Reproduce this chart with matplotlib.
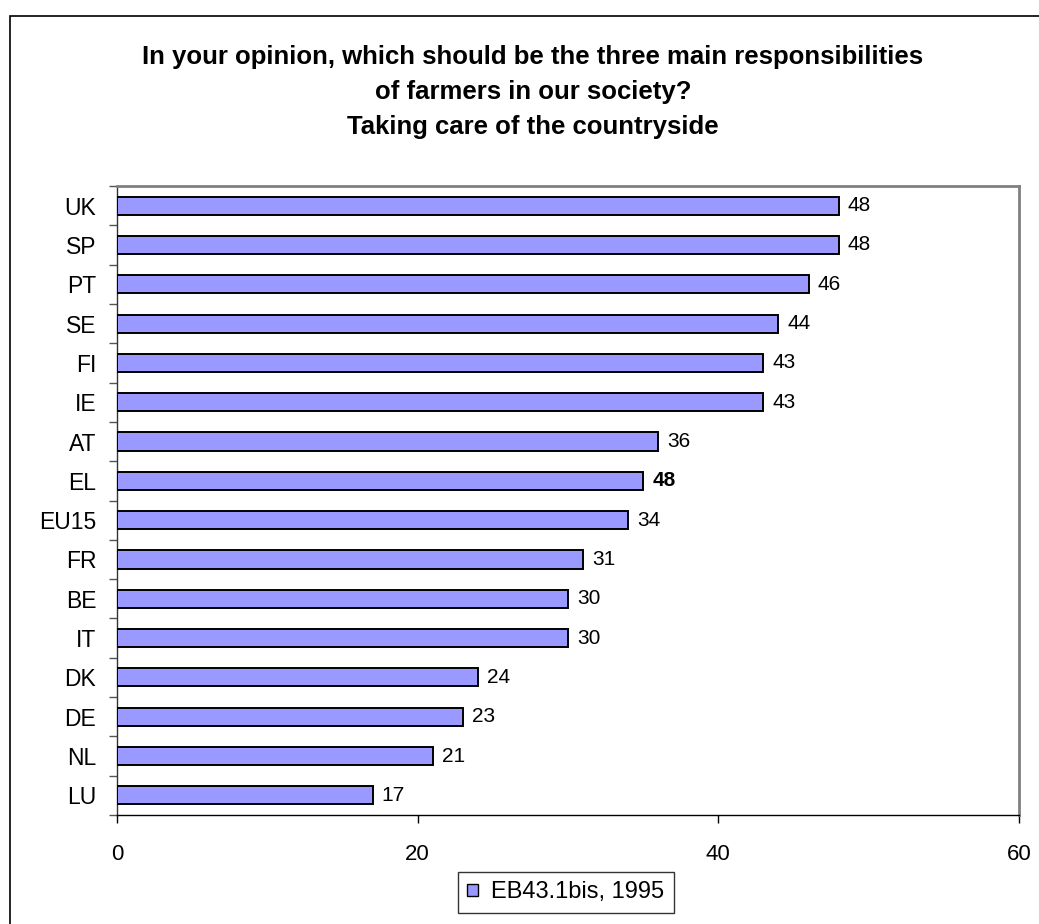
import matplotlib
matplotlib.use("Agg")
import matplotlib.pyplot as plt
from matplotlib.patches import Rectangle, Patch

countries = ["UK", "SP", "PT", "SE", "FI", "IE", "AT", "EL", "EU15",
             "FR", "BE", "IT", "DK", "DE", "NL", "LU"]
values = [48, 48, 46, 44, 43, 43, 36, 35, 34, 31, 30, 30, 24, 23, 21, 17]
value_labels = ["48", "48", "46", "44", "43", "43", "36", "48", "34",
                "31", "30", "30", "24", "23", "21", "17"]
bold_labels = ["EL"]
x_ticks = [0, 20, 40, 60]
series_name = "EB43.1bis, 1995"
title = ("In your opinion, which should be the three main responsibilities\n"
         "of farmers in our society?\n"
         "Taking care of the countryside")

plt.rcParams["font.family"] = ["Liberation Sans", "DejaVu Sans"]

W, H = 1039, 924
fig = plt.figure(figsize=(W / 100, H / 100), dpi=100)

# outer chart frame (only left and top edges fall inside the image)
fig.patches.append(Rectangle((10 / W, -0.1), 1.2, 1 - 16 / H + 0.1,
                             transform=fig.transFigure, fill=False,
                             edgecolor="black", linewidth=1.2))

ax = fig.add_axes([117 / W, 1 - 815 / H, (1019 - 117) / W, (815 - 186) / H])

ypos = list(range(len(countries)))
ax.barh(ypos, values, height=0.46, color="#9999FF",
        edgecolor="black", linewidth=1.4, zorder=3)

for y, v, lab, c in zip(ypos, values, value_labels, countries):
    ax.annotate(lab, (v, y), xytext=(6.5, 0), textcoords="offset points",
                va="center", ha="left", fontsize=15,
                fontweight="bold" if c in bold_labels else "normal")

ax.set_xlim(x_ticks[0], x_ticks[-1])
ax.set_ylim(len(countries) - 0.5, -0.5)
ax.set_xticks(x_ticks)
ax.set_xticklabels([str(t) for t in x_ticks], fontsize=16)
ax.tick_params(axis="x", direction="out", length=6, width=1, pad=15,
               color="black")

ax.set_yticks(ypos)
ax.set_yticklabels(countries, fontsize=16.5)
ax.tick_params(axis="y", which="major", length=0, pad=15)
ax.set_yticks([i - 0.5 for i in range(len(countries) + 1)], minor=True)
ax.tick_params(axis="y", which="minor", direction="out", length=6,
               width=1, color="#555555")

for side in ("top", "right"):
    ax.spines[side].set_color("#808080")
    ax.spines[side].set_linewidth(2)
ax.spines["left"].set_color("#333333")
ax.spines["left"].set_linewidth(1)
ax.spines["bottom"].set_color("black")
ax.spines["bottom"].set_linewidth(1)

fig.text(533 / W, 1 - 92 / H, title, ha="center", va="center",
         fontsize=18.5, fontweight="bold", linespacing=1.6)

leg = fig.legend(handles=[Patch(facecolor="#9999FF", edgecolor="black",
                                linewidth=1, label=series_name)],
                 loc="upper left", bbox_to_anchor=(458 / W, 1 - 872 / H),
                 fontsize=17, frameon=True, fancybox=False,
                 handlelength=0.45, handleheight=0.45, handletextpad=0.55,
                 borderpad=0.4, borderaxespad=0)
leg.get_frame().set_edgecolor("black")
leg.get_frame().set_linewidth(1)

fig.savefig("out.png", dpi=100)
